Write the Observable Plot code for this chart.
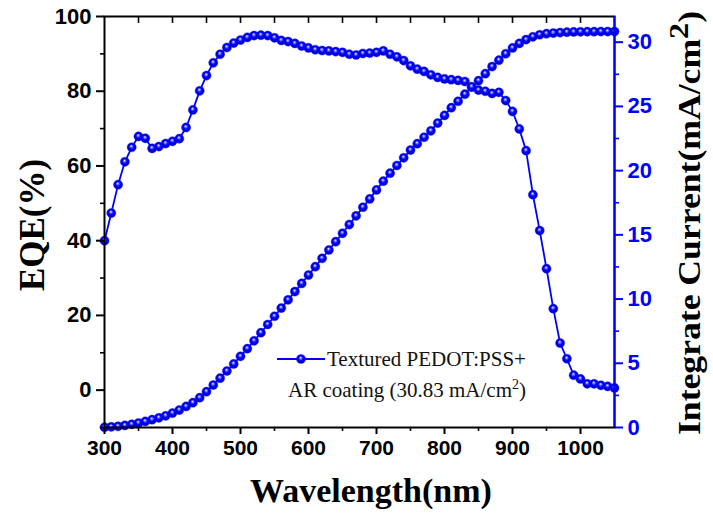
<!DOCTYPE html>
<html><head><meta charset="utf-8">
<script src="https://cdn.jsdelivr.net/npm/d3@7"></script>
<script src="https://cdn.jsdelivr.net/npm/@observablehq/plot@0.6"></script>
<style>
html,body{margin:0;padding:0;background:#fff;}
svg{display:block;}
</style></head><body><div id="chart"></div>
<script>
const wavelength = [300,310,320,330,340,350,360,370,380,390,
  400,410,420,430,440,450,460,470,480,490,
  500,510,520,530,540,550,560,570,580,590,
  600,610,620,630,640,650,660,670,680,690,
  700,710,720,730,740,750,760,770,780,790,
  800,810,820,830,840,850,860,870,880,890,
  900,910,920,930,940,950,960,970,980,990,
  1000,1010,1020,1030,1040,1050];
const eqe = [40.0,47.4,55.0,61.1,65.0,67.9,67.4,64.7,65.2,66.0,
  66.6,67.3,70.3,75.0,80.1,84.2,87.6,89.9,91.7,92.9,
  93.7,94.4,94.9,95.0,94.9,94.3,93.6,93.3,92.8,92.1,
  91.6,91.1,90.9,90.8,90.6,90.4,89.9,89.7,90.1,90.2,
  90.4,90.8,89.9,89.2,88.2,86.8,85.9,85.3,84.4,83.7,
  83.3,83.1,82.9,82.6,81.2,80.3,80.0,79.4,79.7,77.5,
  74.6,69.9,64.1,52.3,42.7,32.5,21.8,12.6,8.4,4.0,
  3.0,1.7,1.7,1.3,1.0,0.6];
const current = [0.02,0.05,0.09,0.16,0.25,0.35,0.47,0.61,0.75,0.91,
  1.12,1.36,1.64,1.93,2.32,2.79,3.31,3.84,4.40,4.95,
  5.54,6.14,6.75,7.38,8.02,8.66,9.30,9.94,10.58,11.22,
  11.87,12.52,13.17,13.82,14.47,15.12,15.80,16.48,17.15,17.80,
  18.50,19.18,19.80,20.40,21.00,21.60,22.10,22.60,23.10,23.70,
  24.30,24.90,25.40,25.95,26.50,27.00,27.55,28.10,28.60,29.10,
  29.55,29.90,30.20,30.42,30.58,30.66,30.71,30.75,30.78,30.80,
  30.81,30.82,30.82,30.83,30.83,30.83];

const xDomain = [300, 1050];
const xTicks = [300,400,500,600,700,800,900,1000];
const xMinorTicks = [350,450,550,650,750,850,950];
const xTopTicks = [350,400,450,500,550,600,650,700,750,800,850,900,950,1000];
const eqeDomain = [-10, 100];
const eqeTicks = [0,20,40,60,80,100];
const eqeMinorTicks = [-10,10,30,50,70,90];
const currentDomain = [0, 32];
const currentTicks = [0,5,10,15,20,25,30];
const currentMinorTicks = [2.5,7.5,12.5,17.5,22.5,27.5];
const xTitle = "Wavelength(nm)";
const yTitle = "EQE(%)";
const y2Title = "Integrate Current(mA/cm";
const legendLine1 = "Textured PEDOT:PSS+";
const legendLine2 = "AR coating (30.83 mA/cm";

const BLUE = "#0000ff";
const sans = "'Liberation Sans', Arial, sans-serif";
const serif = "'Liberation Serif', 'Times New Roman', serif";

const toLeft = d3.scaleLinear(currentDomain, eqeDomain);
const rows = wavelength.map((w, i) => ({w, eqe: eqe[i], j: toLeft(current[i])}));

const blank = () => "";
const R = 4.6;
const svg = Plot.plot({
  width: 713, height: 513,
  marginLeft: 104, marginRight: 99, marginTop: 16, marginBottom: 86,
  style: {background: "#fff", fontFamily: sans},
  x: {domain: xDomain},
  y: {domain: eqeDomain},
  marks: [
    Plot.line(rows, {x: "w", y: "j", stroke: BLUE, strokeWidth: 1.8}),
    Plot.dot(rows, {x: "w", y: "j", r: R, fill: "url(#ball)", stroke: "#2020ff", strokeWidth: 0.4}),
    Plot.line(rows, {x: "w", y: "eqe", stroke: BLUE, strokeWidth: 1.8}),
    Plot.dot(rows, {x: "w", y: "eqe", r: R, fill: "url(#ball)", stroke: "#2020ff", strokeWidth: 0.4}),
    Plot.frame({stroke: "#000", strokeWidth: 2}),
    Plot.ruleX([xDomain[1]], {stroke: BLUE, strokeWidth: 2}),
    Plot.axisX({ticks: xTicks, anchor: "bottom", label: null, tickSize: 7, tickPadding: 6, strokeWidth: 2,
      fontSize: 21, fontWeight: "bold", fontFamily: sans, fill: "#000", tickFormat: d => String(d)}),
    Plot.axisX({ticks: xMinorTicks, anchor: "bottom", label: null, tickSize: 4, strokeWidth: 1.6, tickFormat: blank}),
    Plot.axisX({ticks: xTopTicks, anchor: "top", label: null, tickSize: 6, dy: 6, strokeWidth: 1.6, tickFormat: blank}),
    Plot.axisY({ticks: eqeTicks, anchor: "left", label: null, tickSize: 8, tickPadding: 5, strokeWidth: 2,
      fontSize: 22, fontWeight: "bold", fontFamily: sans, fill: "#000", tickFormat: d => String(d)}),
    Plot.axisY({ticks: eqeMinorTicks, anchor: "left", label: null, tickSize: 4, strokeWidth: 1.6, tickFormat: blank}),
    Plot.axisY({ticks: currentTicks.map(toLeft), anchor: "right", label: null, tickSize: 8, tickPadding: 5, strokeWidth: 2,
      stroke: BLUE, fill: BLUE, fontSize: 22, fontWeight: "bold", fontFamily: sans,
      tickFormat: d => String(Math.round(toLeft.invert(d)))}),
    Plot.axisY({ticks: currentMinorTicks.map(toLeft), anchor: "right", label: null, tickSize: 4, strokeWidth: 1.6,
      stroke: BLUE, tickFormat: blank})
  ]
});

const s = d3.select(svg);
const grad = s.insert("defs", ":first-child").append("radialGradient")
  .attr("id", "ball").attr("cx", "50%").attr("cy", "50%").attr("r", "50%")
  .attr("fx", "45%").attr("fy", "35%");
grad.append("stop").attr("offset", "0%").attr("stop-color", "#f4f4ff");
grad.append("stop").attr("offset", "22%").attr("stop-color", "#7a7aff");
grad.append("stop").attr("offset", "50%").attr("stop-color", "#0000ff");
grad.append("stop").attr("offset", "100%").attr("stop-color", "#0000c0");

// axis titles
s.append("text").text(xTitle)
  .attr("x", 371).attr("y", 502).attr("text-anchor", "middle")
  .attr("font-family", serif).attr("font-weight", "bold").attr("font-size", 34).attr("fill", "#000");
s.append("text").text(yTitle)
  .attr("transform", "translate(44,225) rotate(-90)").attr("text-anchor", "middle")
  .attr("font-family", serif).attr("font-weight", "bold").attr("font-size", 35).attr("fill", "#000");
const t2 = s.append("text")
  .attr("transform", "translate(700,223) rotate(-90) scale(1.15,1)").attr("text-anchor", "middle")
  .attr("font-family", serif).attr("font-weight", "bold").attr("font-size", 31).attr("fill", "#000");
t2.append("tspan").text(y2Title);
t2.append("tspan").text("2").attr("dy", -12).attr("font-size", 28);
t2.append("tspan").text(")").attr("dy", 12);

// legend
const lg = s.append("g").attr("text-anchor", "start");
lg.append("line").attr("x1", 277).attr("x2", 325).attr("y1", 359).attr("y2", 359)
  .attr("stroke", BLUE).attr("stroke-width", 1.8);
lg.append("circle").attr("cx", 301).attr("cy", 359).attr("r", R)
  .attr("fill", "url(#ball)").attr("stroke", "#2020ff").attr("stroke-width", 0.4);
lg.append("text").text(legendLine1).attr("x", 327).attr("y", 366).attr("text-anchor", "start")
  .attr("font-family", serif).attr("font-size", 21).attr("fill", "#111");
const l2 = lg.append("text").attr("x", 288).attr("y", 397).attr("text-anchor", "start")
  .attr("font-family", serif).attr("font-size", 21).attr("fill", "#111");
l2.append("tspan").text(legendLine2);
l2.append("tspan").text("2").attr("dy", -8).attr("font-size", 14);
l2.append("tspan").text(")").attr("dy", 8);

document.getElementById("chart").appendChild(svg);
</script></body></html>
